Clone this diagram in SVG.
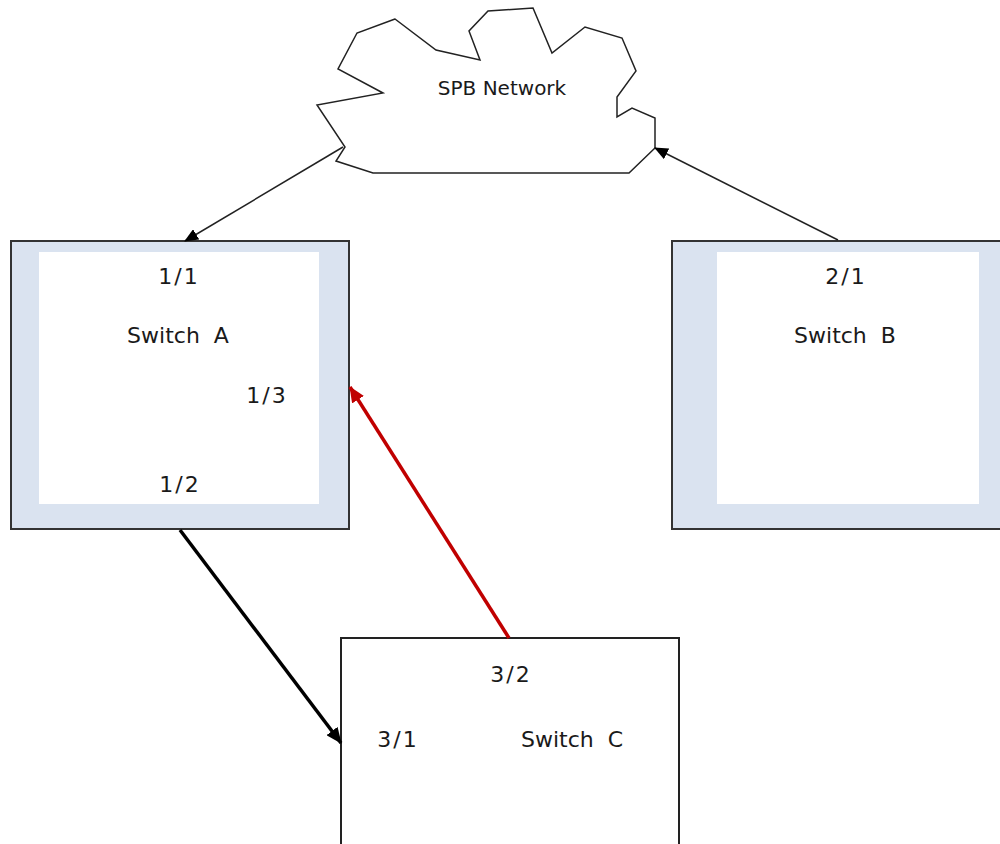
<svg xmlns="http://www.w3.org/2000/svg" width="1000" height="844" viewBox="0 0 1000 844">
<style>
.lbl{font-family:"DejaVu Sans",Verdana,sans-serif;font-size:22px;fill:#1a1a1a;text-anchor:middle}
.port{letter-spacing:2px}
.cl{font-family:"DejaVu Sans",Verdana,sans-serif;font-size:20px;fill:#1a1a1a;text-anchor:middle}
.outer{fill:#dae3f0;stroke:#333;stroke-width:2}
.inner{fill:#fff;stroke:none}
.thin{fill:none;stroke:#222;stroke-width:1.5}
.thick{fill:none;stroke:#000;stroke-width:3.5}
.red{fill:none;stroke:#c00000;stroke-width:3.5}
</style>
<defs>
<marker id="ah" markerUnits="userSpaceOnUse" markerWidth="14" markerHeight="12" refX="13" refY="6" orient="auto"><path d="M0,0 L14,6 L0,12 z" fill="#000"/></marker>
<marker id="ahb" markerUnits="userSpaceOnUse" markerWidth="16" markerHeight="14" refX="15" refY="7" orient="auto"><path d="M0,0 L16,7 L0,14 z" fill="#000"/></marker>
<marker id="ahr" markerUnits="userSpaceOnUse" markerWidth="16" markerHeight="14" refX="15" refY="7" orient="auto"><path d="M0,0 L16,7 L0,14 z" fill="#c00000"/></marker>
</defs>
<rect width="1000" height="844" fill="#fff"/>
<g id="cloud">
<polygon points="395,19 357,33 338,69 383,93 317,105 345,147 336,161 373,173 629,173 655,148 655,118 632,108 617,117 617,97 636,71 622,38 585,27 552,53 533,8 488,11 469,31 480,60 436,50" fill="#fff" stroke="#222" stroke-width="1.5" stroke-linejoin="miter"/>
<text class="cl" x="502" y="95">SPB Network</text>
</g>
<g id="switchA">
<rect class="outer" x="11" y="241" width="338" height="288"/>
<rect class="inner" x="39" y="252" width="280" height="252"/>
<text class="lbl port" x="179" y="284">1/1</text>
<text class="lbl" x="178" y="343" xml:space="preserve">Switch  A</text>
<text class="lbl port" x="267" y="403">1/3</text>
<text class="lbl port" x="180" y="492">1/2</text>
</g>
<g id="switchB">
<rect class="outer" x="672" y="241" width="340" height="288"/>
<rect class="inner" x="717" y="252" width="262" height="252"/>
<text class="lbl port" x="846" y="284">2/1</text>
<text class="lbl" x="845" y="343" xml:space="preserve">Switch  B</text>
</g>
<g id="switchC">
<rect x="341" y="638" width="338" height="220" fill="#fff" stroke="#222" stroke-width="2"/>
<text class="lbl port" x="511" y="682">3/2</text>
<text class="lbl port" x="398" y="747">3/1</text>
<text class="lbl" x="572" y="747" xml:space="preserve">Switch  C</text>
</g>
<g id="connectors">
<line class="thin" x1="343" y1="147" x2="185" y2="241" marker-end="url(#ah)"/>
<line class="thin" x1="838" y1="240" x2="655" y2="148" marker-end="url(#ah)"/>
<line class="thick" x1="180" y1="530" x2="341" y2="743" marker-end="url(#ahb)"/>
<line class="red" x1="509" y1="638" x2="350" y2="387" marker-end="url(#ahr)"/>
</g>
</svg>
